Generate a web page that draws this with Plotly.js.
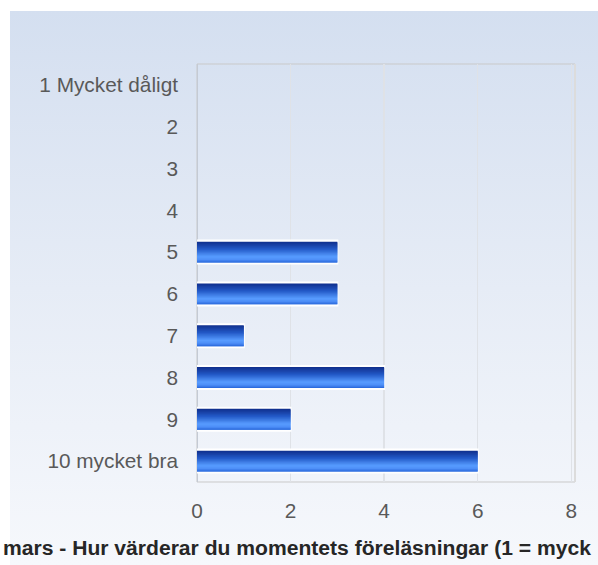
<!DOCTYPE html>
<html>
<head>
<meta charset="utf-8">
<script src="https://cdn.plot.ly/plotly-3.0.1.min.js"></script>
<style>
  html, body { margin: 0; padding: 0; width: 598px; height: 565px; overflow: hidden; background: #ffffff; }
  #bg { position: absolute; left: 10px; top: 11px; right: 0; bottom: 0;
        background: linear-gradient(to bottom, #d4dff0 0%, #e6ecf6 50%, #f6f8fc 100%); }
  #chart { position: absolute; left: 0; top: 0; width: 598px; height: 565px; }
</style>
</head>
<body>
<div id="bg"></div>
<div id="chart"></div>
<script>
// ---- data ----
const categories = ["1 Mycket dåligt", "2", "3", "4", "5", "6", "7", "8", "9", "10 mycket bra"];
const counts = [0, 0, 0, 0, 3, 3, 1, 4, 2, 6];
const xTicks = [0, 2, 4, 6, 8];
const chartTitle = "mars - Hur värderar du momentets föreläsningar (1 = myck";

// ---- style: vertical gradient of the bars (top -> bottom) ----
const stops = [
  [0.00, [16, 46, 140]],
  [0.35, [34, 88, 198]],
  [0.72, [88, 156, 255]],
  [0.86, [78, 142, 248]],
  [1.00, [38, 102, 218]]
];
function colorAt(t) {
  for (let i = 0; i < stops.length - 1; i++) {
    const [t0, c0] = stops[i], [t1, c1] = stops[i + 1];
    if (t <= t1) {
      const f = (t - t0) / (t1 - t0);
      const c = c0.map((v, k) => Math.round(v + (c1[k] - v) * f));
      return "rgb(" + c.join(",") + ")";
    }
  }
  return "rgb(" + stops[stops.length - 1][1].join(",") + ")";
}

const barWidth = 0.5;
const nStripes = 24;
const traces = [];
// white outline base
traces.push({
  type: "bar", orientation: "h", y: categories, x: counts,
  width: barWidth + 0.05, offset: -(barWidth + 0.05) / 2,
  marker: { color: "#ffffff", line: { color: "#ffffff", width: counts.map(v => v > 0 ? 2 : 0) } },
  hoverinfo: "skip", showlegend: false
});
for (let i = 0; i < nStripes; i++) {
  const h = barWidth / nStripes;
  const w = (i === nStripes - 1) ? h : h * 2;
  traces.push({
    type: "bar", orientation: "h", y: categories, x: counts,
    width: w, offset: -barWidth / 2 + i * h,
    marker: { color: colorAt((i + 0.5) / nStripes), line: { width: 0 } },
    hoverinfo: "x+y", showlegend: false
  });
}

const font = { family: "Liberation Sans, Arial, sans-serif", size: 20.8, color: "#595959" };

const layout = {
  width: 598, height: 565,
  margin: { l: 197, r: 23, t: 64, b: 83, pad: 0 },
  paper_bgcolor: "rgba(0,0,0,0)",
  plot_bgcolor: "rgba(0,0,0,0)",
  barmode: "overlay",
  showlegend: false,
  font: font,
  title: {
    text: "<b>" + chartTitle + "</b>",
    font: { family: "Liberation Sans, Arial, sans-serif", size: 21.1, color: "#262626" },
    xref: "container", yref: "container",
    x: 3 / 598, xanchor: "left",
    y: 1 - 548 / 565, yanchor: "middle"
  },
  xaxis: {
    range: [0, 8.08],
    tickvals: xTicks, ticktext: xTicks.map(String),
    showgrid: true, gridcolor: "#dfe2e7", gridwidth: 1.5,
    zeroline: false, showline: false,
    ticks: "", ticklabelstandoff: 14,
    tickfont: font, fixedrange: true
  },
  yaxis: {
    type: "category", categoryorder: "array", categoryarray: categories,
    autorange: "reversed",
    showgrid: false, zeroline: false, showline: false,
    ticks: "", ticklabelstandoff: 18,
    tickfont: font, fixedrange: true
  },
  shapes: [
    { type: "rect", xref: "paper", yref: "paper", x0: 0, x1: 1, y0: 0, y1: 1,
      line: { color: "#c9c9c9", width: 1 }, fillcolor: "rgba(0,0,0,0)", layer: "below" },
    { type: "line", xref: "paper", yref: "paper", x0: 1, x1: 1, y0: 0, y1: 1,
      line: { color: "#dcdcdc", width: 2 }, layer: "below" },
    { type: "line", xref: "x", yref: "paper", x0: 0, x1: 0, y0: 0, y1: 1,
      line: { color: "#c4cad4", width: 2 }, layer: "below" }
  ]
};

Plotly.newPlot("chart", traces, layout, { displayModeBar: false, staticPlot: true });
</script>
</body>
</html>
